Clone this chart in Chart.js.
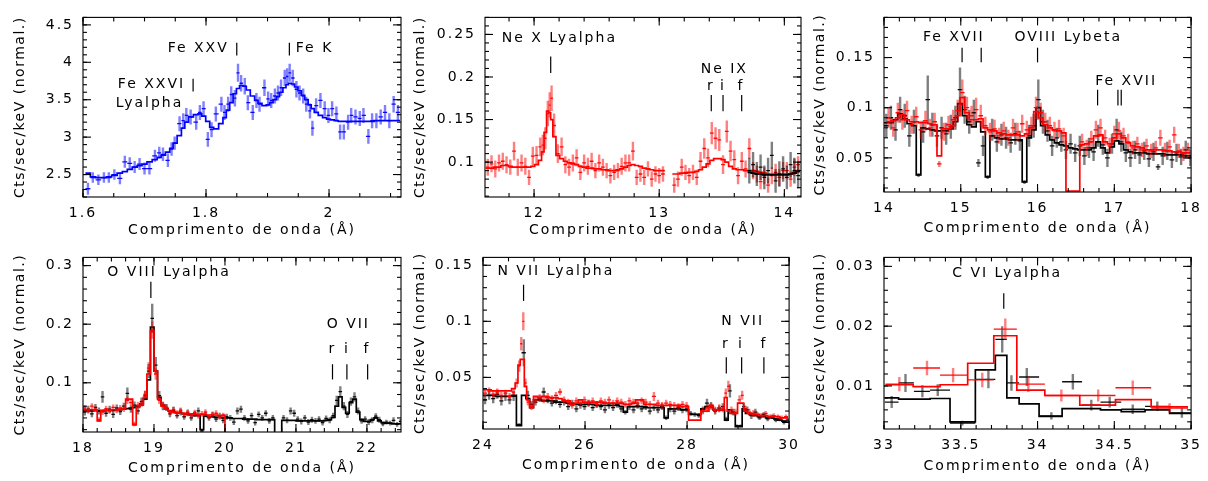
<!DOCTYPE html>
<html>
<head>
<meta charset="utf-8">
<script src="https://cdn.jsdelivr.net/npm/chart.js@4.4.1/dist/chart.umd.min.js"></script>
<style>
  body { margin: 0; background: #fff; width: 1208px; height: 481px; position: relative; overflow: hidden; }
  .panel { position: absolute; }
</style>
</head>
<body>
<div class="panel" style="left:0;top:0;width:404px;height:240px"><canvas id="p1"></canvas></div>
<div class="panel" style="left:404px;top:0;width:402px;height:240px"><canvas id="p2"></canvas></div>
<div class="panel" style="left:806px;top:0;width:402px;height:240px"><canvas id="p3"></canvas></div>
<div class="panel" style="left:0;top:240px;width:404px;height:241px"><canvas id="p4"></canvas></div>
<div class="panel" style="left:404px;top:240px;width:402px;height:241px"><canvas id="p5"></canvas></div>
<div class="panel" style="left:806px;top:240px;width:402px;height:241px"><canvas id="p6"></canvas></div>
<script>
// ---- Panel 1: Fe K region (blue) ----
const feWave = [1.608,1.616,1.625,1.634,1.642,1.651,1.660,1.668,1.676,1.684,1.692,1.700,1.708,1.717,1.724,1.730,1.738,1.744,1.749,1.757,
  1.763,1.768,1.775,1.784,1.790,1.796,1.803,1.809,1.816,1.825,1.830,1.836,1.841,1.847,1.852,1.857,1.863,1.868,1.876,1.882,
  1.887,1.895,1.901,1.906,1.912,1.917,1.922,1.928,1.932,1.936,1.941,1.947,1.952,1.958,1.963,1.969,1.973,1.979,1.986,1.993,
  1.999,2.005,2.012,2.018,2.024,2.031,2.036,2.043,2.050,2.056,2.064,2.070,2.077,2.084,2.091,2.098,2.105,2.112];
const feFlux = [2.31,2.46,2.43,2.46,2.46,2.50,2.45,2.67,2.65,2.60, 2.64,2.58,2.58,2.75,2.79,2.77,2.69,2.84,2.92,3.18,
  3.22,3.29,3.27,3.20,3.33,3.38,2.97,3.10,3.31,3.44, 3.33,3.44,3.57,3.52,3.86,3.72,3.68,3.46,3.33,3.49,
  3.44,3.66,3.51,3.49,3.55,3.59,3.66,3.79,3.81,3.86, 3.79,3.64,3.59,3.55,3.44,3.35,3.12,3.42,3.49,3.38,
  3.29,3.38,3.31,3.07,3.07,3.20,3.29,3.27,3.25,3.29, 3.01,3.22,3.22,3.27,3.33,3.22,3.44,3.33];
const feErr = [.08,.07,.07,.07,.07,.07,.08,.08,.08,.08, .08,.08,.08,.08,.08,.09,.09,.09,.09,.10,
  .10,.10,.10,.10,.10,.10,.10,.10,.10,.10, .10,.10,.11,.11,.12,.11,.11,.10,.10,.10,
  .10,.11,.10,.10,.10,.10,.11,.11,.11,.12, .11,.11,.10,.10,.10,.10,.10,.10,.10,.10,
  .10,.10,.10,.10,.10,.10,.10,.10,.10,.10, .10,.10,.10,.10,.10,.10,.11,.10];
const feModel = [2.52,2.47,2.46,2.46,2.47,2.49,2.52,2.54,2.57,2.60, 2.62,2.64,2.67,2.70,2.73,2.76,2.80,2.85,2.92,3.02,
  3.12,3.20,3.27,3.30,3.31,3.28,3.21,3.13,3.11,3.18, 3.26,3.36,3.46,3.58,3.65,3.69,3.68,3.63,3.55,3.49,
  3.45,3.42,3.43,3.46,3.50,3.54,3.60,3.66,3.70,3.72, 3.71,3.67,3.62,3.56,3.50,3.43,3.38,3.33,3.29,3.26,
  3.24,3.23,3.22,3.21,3.21,3.21,3.21,3.21,3.21,3.21, 3.21,3.21,3.22,3.22,3.22,3.22,3.22,3.22];
const feXTicks = [1.6, 1.8, 2];
const feYTicks = [2.5, 3, 3.5, 4, 4.5];

// ---- Panel 2: Ne region (red + black) ----
const neWaveR = [11.63,11.66,11.69,11.72,11.75,11.78,11.81,11.84,11.87,11.90, 11.93,11.96,11.99,12.02,12.05,12.07,12.09,12.11,12.125,12.14,
  12.16,12.19,12.22,12.25,12.28,12.31,12.34,12.37,12.40,12.43, 12.46,12.49,12.52,12.55,12.58,12.61,12.64,12.67,12.70,12.73,
  12.76,12.79,12.82,12.85,12.88,12.91,12.94,12.97,13.00,13.03,
  13.12,13.15,13.18,13.21,13.24,13.27,13.30,13.33,13.36,13.39, 13.42,13.45,13.48,13.51,13.54,13.57,13.60,13.63,13.66,13.69,
  13.72,13.75,13.78,13.81,13.84,13.87,13.90,13.93,13.96,13.99, 14.02,14.05,14.08,14.11];
const neFluxR = [0.094,0.098,0.092,0.099,0.101,0.097,0.094,0.113,0.094,0.099, 0.095,0.082,0.107,0.108,0.118,0.120,0.128,0.157,0.167,0.175,
  0.143,0.110,0.118,0.097,0.094,0.099,0.105,0.088,0.099,0.095, 0.101,0.090,0.099,0.094,0.090,0.084,0.088,0.090,0.095,0.099,
  0.099,0.113,0.082,0.086,0.082,0.092,0.080,0.086,0.084,0.086,
  0.073,0.080,0.094,0.088,0.084,0.088,0.082,0.101,0.116,0.105, 0.134,0.128,0.126,0.097,0.136,0.113,0.103,0.084,0.101,0.092,
  0.116,0.090,0.086,0.077,0.084,0.073,0.084,0.088,0.082,0.090, 0.090,0.080,0.094,0.097];
const neErrR = [.010,.010,.010,.010,.010,.010,.009,.011,.010,.010, .010,.009,.011,.011,.011,.012,.013,.015,.015,.015,
  .014,.011,.011,.010,.010,.010,.010,.009,.010,.010, .010,.009,.010,.010,.009,.009,.009,.009,.010,.010,
  .010,.011,.009,.009,.009,.009,.009,.009,.009,.009,
  .009,.009,.010,.009,.009,.009,.009,.011,.012,.011, .013,.013,.013,.011,.013,.012,.011,.010,.011,.010,
  .012,.010,.010,.009,.010,.009,.010,.010,.010,.010, .010,.009,.010,.010];
const neModelR = [0.093,0.093,0.094,0.094,0.096,0.096,0.095,0.094,0.094,0.094, 0.094,0.094,0.095,0.097,0.102,0.112,0.135,0.160,0.158,0.150,
  0.130,0.108,0.104,0.101,0.099,0.098,0.097,0.095,0.094,0.093, 0.093,0.092,0.092,0.091,0.091,0.090,0.090,0.091,0.092,0.094,
  0.096,0.097,0.096,0.095,0.093,0.092,0.091,0.090,0.090,0.090,
  0.086,0.086,0.087,0.087,0.088,0.088,0.089,0.091,0.094,0.098, 0.102,0.104,0.104,0.103,0.100,0.095,0.092,0.091,0.091,0.090,
  0.090,0.090,0.089,0.088,0.087,0.086,0.086,0.086,0.086,0.086, 0.086,0.086,0.088,0.090];
const neWaveK = [13.72,13.75,13.78,13.81,13.84,13.87,13.90,13.93,13.96,13.99,14.02,14.05,14.08,14.11];
const neFluxK = [0.090,0.097,0.086,0.094,0.082,0.090,0.108,0.078,0.086,0.092,0.082,0.097,0.090,0.084];
const neErrK = [.015,.015,.014,.015,.014,.015,.016,.014,.015,.015,.014,.015,.015,.015];
const neModelK = [0.088,0.087,0.086,0.086,0.085,0.085,0.085,0.085,0.085,0.085,0.085,0.086,0.087,0.089];
const neXTicks = [12, 13, 14];
const neYTicks = [0.1, 0.15, 0.2, 0.25];

// ---- Panel 3: Fe XVII / O VIII Lybeta (black + red) ----
const fxWaveK = [14.03,14.09,14.15,14.21,14.27,14.33,14.39,14.45,14.51,14.57, 14.63,14.69,14.75,14.81,14.87,14.93,14.99,15.05,15.11,15.17,
  15.23,15.29,15.35,15.41,15.47,15.53,15.59,15.65,15.71,15.77, 15.83,15.89,15.95,16.01,16.07,16.13,16.19,16.25,16.31,16.37,
  16.43,16.49,16.55,16.61,16.67,16.73,16.79,16.85,16.91,16.97, 17.03,17.09,17.15,17.21,17.27,17.33,17.39,17.45,17.51,17.57,
  17.63,17.69,17.75,17.81,17.87,17.93,17.99];
const fxFluxK = [0.082,0.090,0.078,0.098,0.092,0.072,0.086,0.033,0.076,0.108, 0.083,0.072,0.080,0.074,0.081,0.090,0.118,0.098,0.086,0.095,
  0.045,0.062,0.031,0.078,0.066,0.073,0.070,0.065,0.074,0.067, 0.026,0.072,0.082,0.108,0.086,0.077,0.062,0.070,0.066,0.058,
  0.064,0.055,0.062,0.052,0.060,0.056,0.072,0.063,0.050,0.064, 0.078,0.066,0.055,0.050,0.058,0.053,0.057,0.049,0.056,0.041,
  0.052,0.057,0.048,0.055,0.051,0.058,0.050];
const fxErrK = [.012,.012,.011,.013,.012,.011,.012,.002,.011,.024, .012,.011,.011,.011,.012,.012,.022,.014,.012,.013,
  .004,.010,.002,.011,.010,.011,.011,.010,.011,.010, .002,.011,.012,.020,.012,.011,.010,.010,.010,.009,
  .010,.009,.010,.009,.010,.009,.011,.010,.009,.010, .011,.010,.009,.009,.009,.009,.009,.008,.009,.003,
  .009,.009,.008,.009,.008,.009,.008];
const fxModelK = [0.085,0.085,0.088,0.094,0.089,0.084,0.082,0.033,0.080,0.079, 0.078,0.077,0.077,0.077,0.079,0.086,0.104,0.092,0.083,0.081,
  0.086,0.076,0.031,0.072,0.070,0.069,0.069,0.068,0.068,0.068, 0.026,0.070,0.078,0.100,0.082,0.073,0.068,0.065,0.063,0.062,
  0.060,0.059,0.058,0.058,0.058,0.060,0.066,0.060,0.055,0.061, 0.067,0.064,0.058,0.056,0.055,0.055,0.055,0.054,0.054,0.054,
  0.054,0.053,0.053,0.053,0.053,0.052,0.052];
const fxWaveR = [14.06,14.12,14.18,14.24,14.30,14.36,14.42,14.48,14.54,14.60, 14.66,14.72,14.78,14.84,14.90,14.96,15.02,15.08,15.14,15.20,
  15.26,15.32,15.38,15.44,15.50,15.56,15.62,15.68,15.74,15.80, 15.86,15.92,15.98,16.04,16.10,16.16,16.22,16.28,16.34,16.40,
  16.46,16.52,16.58,16.64,16.70,16.76,16.82,16.88,16.94,17.00, 17.06,17.12,17.18,17.24,17.30,17.36,17.42,17.48,17.54,17.60,
  17.66,17.72,17.78,17.84,17.90,17.96];
const fxFluxR = [0.090,0.080,0.095,0.088,0.097,0.083,0.091,0.078,0.087,0.080, 0.086,0.044,0.076,0.083,0.088,0.097,0.115,0.100,0.092,0.098,
  0.092,0.082,0.076,0.079,0.072,0.077,0.070,0.080,0.076,0.084, 0.078,0.082,0.100,0.095,0.086,0.082,0.077,0.079,0.072,null,
  null,null,0.066,0.060,0.069,0.078,0.080,0.070,0.062,0.074, 0.077,0.072,0.066,0.060,0.064,0.058,0.062,0.057,0.060,0.070,
  0.058,0.061,0.073,0.057,0.054,0.058];
const fxErrR = [.010,.009,.010,.010,.010,.009,.010,.009,.010,.009, .009,.003,.009,.009,.010,.011,.013,.011,.010,.012,
  .011,.009,.009,.009,.008,.009,.008,.009,.009,.009, .009,.009,.011,.010,.009,.009,.009,.009,.008,0,
  0,0,.008,.008,.008,.009,.009,.008,.008,.008, .009,.008,.008,.007,.007,.007,.007,.007,.007,.008,
  .007,.007,.008,.007,.007,.007];
const fxModelR = [0.086,0.087,0.090,0.093,0.088,0.086,0.086,0.085,0.085,0.084, 0.083,0.052,0.079,0.079,0.082,0.092,0.110,0.095,0.088,0.088,
  0.089,0.080,0.078,0.077,0.075,0.074,0.073,0.073,0.073,0.072, 0.074,0.080,0.096,0.090,0.083,0.080,0.078,0.077,0.075,0.017,
  0.017,0.017,0.063,0.064,0.066,0.072,0.073,0.066,0.064,0.070, 0.074,0.070,0.065,0.062,0.061,0.060,0.058,0.058,0.058,0.058,
  0.057,0.057,0.056,0.056,0.055,0.055];
const fxXTicks = [14, 15, 16, 17, 18];
const fxYTicks = [0.05, 0.1, 0.15];

// ---- Panel 4: O VIII / O VII (black + red) ----
const oxWaveK = [18.025,18.075,18.125,18.175,18.225,18.275,18.325,18.375,18.425,18.475, 18.525,18.575,18.625,18.675,18.725,18.775,18.825,18.875,18.925,18.975,
  19.025,19.075,19.125,19.175,19.225,19.275,19.325,19.375,19.425,19.475, 19.525,19.575,19.625,19.675,19.725,19.775,19.825,19.875,19.925,19.975,
  20.025,20.075,20.125,20.175,20.225,20.275,20.325,20.375,20.425,20.475, 20.525,20.575,20.625,20.675,20.725,20.775,20.825,20.875,20.925,20.975,
  21.025,21.075,21.125,21.175,21.225,21.275,21.325,21.375,21.425,21.475, 21.525,21.575,21.625,21.675,21.725,21.775,21.825,21.875,21.925,21.975,
  22.025,22.075,22.125,22.175,22.225,22.275,22.325,22.375,22.425,22.475];
const oxFluxK = [0.050,0.055,0.047,0.058,0.052,0.076,0.048,0.055,0.046,0.057, 0.051,0.060,0.082,0.055,0.062,0.052,0.068,0.078,0.120,0.210,
  0.130,0.078,0.060,0.058,0.047,0.053,0.044,0.050,0.042,0.048, 0.040,0.047,0.052,0.018,0.046,0.040,0.045,0.038,0.044,0.036,
  0.042,0.040,0.033,0.052,0.055,0.040,0.035,0.044,0.032,0.046, 0.040,0.048,0.035,0.040,null,null,0.040,0.036,0.052,0.048,
  0.038,0.034,0.040,0.033,0.037,0.035,0.038,0.032,0.039,0.036, 0.044,0.070,0.085,0.060,0.046,0.068,0.076,0.052,0.035,0.038,
  0.033,0.036,0.043,0.037,0.030,0.033,0.031,0.036,0.029,0.034];
const oxErrK = [.006,.006,.006,.006,.006,.010,.006,.006,.006,.006, .006,.006,.010,.006,.006,.006,.007,.008,.012,.025,
  .014,.008,.007,.006,.006,.006,.005,.006,.005,.005, .005,.005,.006,.003,.005,.005,.005,.005,.005,.005,
  .005,.005,.005,.006,.006,.005,.005,.005,.005,.005, .005,.005,.005,.005,0,0,.005,.005,.006,.006,
  .005,.005,.005,.005,.005,.005,.005,.005,.005,.005, .005,.008,.009,.007,.006,.007,.008,.006,.005,.005,
  .005,.005,.005,.005,.004,.004,.004,.005,.004,.004];
const oxModelK = [0.052,0.052,0.052,0.053,0.052,0.052,0.053,0.053,0.053,0.054, 0.054,0.055,0.056,0.057,0.058,0.060,0.064,0.072,0.105,0.195,
  0.120,0.075,0.062,0.056,0.052,0.050,0.049,0.048,0.047,0.046, 0.045,0.044,0.044,0.020,0.043,0.042,0.042,0.041,0.041,0.040,
  0.040,0.040,0.039,0.039,0.039,0.038,0.038,0.038,0.038,0.037, 0.037,0.037,0.037,0.037,0,0,0.036,0.036,0.036,0.036,
  0.035,0.035,0.035,0.035,0.035,0.035,0.035,0.035,0.036,0.037, 0.041,0.060,0.076,0.058,0.048,0.066,0.072,0.050,0.037,0.034,
  0.034,0.037,0.040,0.035,0.032,0.031,0.031,0.030,0.030,0.030];
const oxWaveR = [18.025,18.075,18.125,18.175,18.225,18.275,18.325,18.375,18.425,18.475, 18.525,18.575,18.625,18.675,18.725,18.775,18.825,18.875,18.925,18.975,
  19.025,19.075,19.125,19.175,19.225,19.275,19.325,19.375,19.425,19.475, 19.525,19.575,19.625,19.675,19.725,19.775,19.825,19.875,19.925,19.975, 20.025];
const oxFluxR = [0.057,0.052,0.060,0.055,0.037,0.050,0.056,0.052,0.058,0.053, 0.057,0.055,0.070,0.066,0.030,0.062,0.065,0.080,0.125,0.190,
  0.115,0.070,0.063,0.058,0.050,0.054,0.048,0.053,0.046,0.050, 0.044,0.049,0.043,0.047,0.050,0.042,0.046,0.048,0.041,0.045, null];
const oxErrR = [.005,.005,.005,.005,.004,.005,.005,.005,.005,.005, .005,.005,.006,.006,.004,.005,.006,.007,.010,.015,
  .010,.006,.005,.005,.005,.005,.005,.005,.004,.005, .004,.005,.004,.005,.005,.004,.005,.005,.004,.004, 0];
const oxModelR = [0.054,0.054,0.054,0.053,0.035,0.053,0.053,0.053,0.054,0.054, 0.055,0.056,0.072,0.072,0.028,0.058,0.062,0.075,0.115,0.188,
  0.120,0.072,0.060,0.055,0.052,0.050,0.049,0.048,0.048,0.047, 0.047,0.046,0.046,0.046,0.045,0.045,0.045,0.045,0.044,0.044, 0];
const oxXTicks = [18, 19, 20, 21, 22];
const oxYTicks = [0.1, 0.2, 0.3];

// ---- Panel 5: N VII (black + red) ----
const nvWaveK = [24.04,24.12,24.20,24.28,24.36,24.44,24.52,24.60,24.71,24.80, 24.88,24.95,25.03,25.11,25.19,25.27,25.35,25.43,25.51,25.59,
  25.67,25.75,25.83,25.91,25.99,26.07,26.15,26.23,26.31,26.39, 26.47,26.55,26.63,26.71,26.79,26.87,26.95,27.03,27.11,27.19,
  27.27,27.35,27.43,27.51,27.59,27.67,27.75,27.83,27.91,27.99, 28.07,28.15,28.23,28.31,28.39,28.47,28.55,28.63,28.70,28.77,
  28.84,28.91,28.98,29.05,29.11,29.18,29.26,29.34,29.42,29.50, 29.58,29.66,29.74,29.82,29.90,29.97];
const nvFluxK = [0.030,0.034,0.031,0.035,0.029,0.033,0.030,0.033,0.008,0.072, 0.034,0.026,0.028,0.031,0.037,0.030,0.027,0.029,0.026,0.028,
  0.024,0.027,0.022,0.025,0.024,0.027,0.023,0.026,0.024,0.021, 0.025,0.023,0.026,0.022,0.019,0.024,0.021,0.025,0.022,0.024,
  0.020,0.023,0.021,0.024,0.014,0.022,0.020,0.023,0.021,0.022, 0.018,0.017,0.016,0.021,0.027,0.025,0.020,0.022,0.024,0.013,
  0.038,0.019,0.007,0.007,0.024,0.021,0.016,0.019,0.014,0.017, 0.013,0.015,0.012,0.013,0.010,0.012];
const nvErrK = [.004,.004,.004,.004,.004,.004,.004,.004,.001,.012, .004,.003,.003,.003,.004,.003,.003,.003,.003,.003,
  .003,.003,.003,.003,.003,.003,.003,.003,.003,.003, .003,.003,.003,.003,.002,.003,.003,.003,.003,.003,
  .003,.003,.003,.003,.002,.003,.003,.003,.003,.003, .002,.002,.002,.003,.004,.003,.003,.003,.003,.002,
  .006,.003,.001,.001,.003,.003,.003,.003,.002,.002, .002,.002,.002,.002,.002,.002];
const nvModelK = [0.034,0.034,0.034,0.033,0.033,0.033,0.033,0.034,0.007,0.034, 0.031,0.023,0.030,0.030,0.029,0.029,0.029,0.028,0.028,0.028,
  0.027,0.026,0.026,0.026,0.026,0.026,0.026,0.025,0.025,0.025, 0.025,0.025,0.025,0.024,0.019,0.024,0.024,0.024,0.024,0.023,
  0.023,0.023,0.023,0.023,0.014,0.022,0.022,0.022,0.021,0.021, 0.017,0.017,0.017,0.022,0.024,0.024,0.021,0.021,0.021,0.012,
  0.021,0.018,0.006,0.006,0.022,0.018,0.017,0.016,0.015,0.015, 0.014,0.014,0.013,0.012,0.011,0.010];
const nvWaveR = [24.04,24.12,24.20,24.28,24.36,24.44,24.52,24.60,24.66,24.71, 24.75,24.79,24.83,24.88,24.95,25.03,25.11,25.19,25.27,25.35,
  25.43,25.51,25.59,25.67,25.75,25.83,25.91,25.99,26.07,26.15, 26.23,26.31,26.39,26.47,26.55,26.63,26.71,26.79,26.87,26.95,
  27.03,27.11,27.19,27.27,27.35,27.43,27.51,27.59,27.67,27.75, 27.83,27.91,27.99,28.07,28.15,28.23,28.31,28.39,28.47,28.55,
  28.63,28.70,28.76,28.81,28.87,28.95,29.03,29.08,29.14,29.22, 29.30,29.38,29.46,29.54,29.62,29.70,29.78,29.86,29.94];
const nvFluxR = [0.036,0.038,0.035,0.037,0.034,0.036,0.033,0.037,0.045,0.060, 0.080,0.100,0.045,0.028,0.024,0.030,0.032,0.030,0.033,0.031,
  0.034,0.037,0.030,0.028,0.025,0.029,0.027,0.030,0.027,0.029, 0.026,0.029,0.028,0.030,0.027,0.029,0.028,0.026,0.029,0.028,
  0.027,0.029,0.028,0.026,0.033,0.027,0.025,0.027,0.026,0.025, 0.024,0.026,0.025,null,null,null,0.020,0.022,0.024,0.021,
  0.023,0.022,0.036,0.042,0.021,0.019,0.030,0.034,0.022,0.019, 0.018,0.017,0.016,0.018,0.015,0.016,0.015,0.014,0.015];
const nvErrR = [.003,.003,.003,.003,.003,.003,.003,.003,.004,.005, .006,.008,.004,.003,.003,.003,.003,.003,.003,.003,
  .003,.003,.003,.003,.003,.003,.003,.003,.003,.003, .003,.003,.003,.003,.003,.003,.003,.003,.003,.003,
  .003,.003,.003,.003,.004,.003,.003,.003,.003,.003, .003,.003,.003,0,0,0,.003,.003,.003,.003,
  .003,.003,.004,.005,.003,.003,.004,.004,.003,.003, .003,.002,.002,.002,.002,.002,.002,.002,.002];
const nvModelR = [0.039,0.039,0.038,0.038,0.038,0.038,0.038,0.040,0.045,0.061, 0.066,0.066,0.042,0.030,0.023,0.033,0.032,0.033,0.032,0.032,
  0.032,0.031,0.029,0.029,0.026,0.027,0.030,0.028,0.028,0.028, 0.028,0.028,0.027,0.027,0.027,0.027,0.027,0.026,0.026,0.027,
  0.030,0.030,0.026,0.026,0.026,0.025,0.025,0.025,0.025,0.025, 0.025,0.024,0.024,0.012,0.012,0.012,0.020,0.020,0.025,0.021,
  0.021,0.021,0.032,0.020,0.018,0.018,0.027,0.027,0.020,0.018, 0.017,0.017,0.016,0.016,0.015,0.015,0.015,0.014,0.014];
const nvXTicks = [24, 26, 28, 30];
const nvYTicks = [0.05, 0.1, 0.15];

// ---- Panel 6: C VI (black + red) ----
const cvWaveK = [33.05,33.14,33.25,33.35,33.51,33.68,33.77,33.83,33.93,34.09,34.23,34.35,34.47,34.62,34.78,34.94];
const cvFluxK = [0.0073,0.0105,0.0091,0.0093,0.0038,0.0111,0.0178,0.0105,0.0115,0.0050,0.0107,0.0068,0.0073,0.0061,0.0066,0.0055];
const cvErrK = [0.0010,0.0015,0.0010,0.0010,0.0004,0.0015,0.0022,0.0013,0.0015,0.0006,0.0013,0.0009,0.0009,0.0008,0.0008,0.0008];
const cvModelK = [0.0080,0.0078,0.0078,0.0079,0.0040,0.0127,0.0151,0.0080,0.0070,0.0049,0.0062,0.0062,0.0060,0.0057,0.0060,0.0054];
const cvWaveR = [33.10,33.28,33.45,33.64,33.79,33.94,34.155,34.395,34.62,34.86];
const cvFluxR = [0.0103,0.0130,0.0118,0.0110,0.0195,0.0103,0.0084,0.0084,0.0097,0.0063];
const cvErrR = [0.0012,0.0012,0.0012,0.0012,0.0018,0.0013,0.0010,0.0010,0.0012,0.0008];
const cvModelR = [0.0102,0.0099,0.0102,0.0138,0.0184,0.0093,0.0084,0.0068,0.0077,0.0065];
const cvXTicks = [33, 33.5, 34, 34.5, 35];
const cvYTicks = [0.01, 0.02, 0.03];

// line labels [text, wavelength, y, align] and marker ticks [wavelength, y0, y1]
const feNotes = [['Fe XXV', 1.837, 4.19, 'right'], ['Fe K', 1.946, 4.19, 'left'], ['Fe XXVI', 1.766, 3.70, 'right'], ['Lyalpha', 1.763, 3.445, 'right']];
const feMarks = [[1.850, 4.09, 4.26], [1.9355, 4.09, 4.26], [1.779, 3.61, 3.78]];
const neNotes = [['Ne X Lyalpha', 11.742, 0.2453, 'left'], ['Ne IX', 13.52, 0.2094, 'center'], ['r', 13.412, 0.1895, 'center'], ['i', 13.51, 0.1895, 'center'], ['f', 13.654, 0.1895, 'center']];
const neMarks = [[12.133, 0.2048, 0.224], [13.416, 0.1597, 0.1788], [13.51, 0.1597, 0.1788], [13.659, 0.1597, 0.1788]];
const fxNotes = [['Fe XVII', 14.91, 0.1705, 'center'], ['OVIII Lybeta', 16.40, 0.1705, 'center'], ['Fe XVII', 17.154, 0.1267, 'center']];
const fxMarks = [[15.017, 0.1452, 0.1598], [15.266, 0.1452, 0.1598], [16.0, 0.1452, 0.1598], [16.782, 0.1023, 0.1179], [17.047, 0.1023, 0.1179], [17.09, 0.1023, 0.1179]];
const oxNotes = [['O VIII Lyalpha', 18.343, 0.289, 'left'], ['O VII', 21.738, 0.200, 'center'], ['r', 21.515, 0.1573, 'center'], ['i', 21.718, 0.1573, 'center'], ['f', 22.0, 0.1573, 'center']];
const oxMarks = [[18.956, 0.2445, 0.2723], [21.515, 0.1057, 0.1317], [21.718, 0.1057, 0.1317], [22.01, 0.1057, 0.1317]];
const nvNotes = [['N VII Lyalpha', 24.283, 0.1448, 'left'], ['N VII', 29.09, 0.0999, 'center'], ['r', 28.763, 0.0796, 'center'], ['i', 29.058, 0.0796, 'center'], ['f', 29.506, 0.0796, 'center']];
const nvMarks = [[24.795, 0.1182, 0.1326], [28.769, 0.0535, 0.068], [29.07, 0.0535, 0.068], [29.506, 0.0535, 0.068]];
const cvNotes = [['C VI Lyalpha', 33.444, 0.02875, 'left']];
const cvMarks = [[33.78, 0.0229, 0.0255]];

const FONT = 'DejaVu Sans';
const Y_TITLE = 'Cts/sec/keV (normal.)';
const X_TITLE = 'Comprimento de onda (Å)';
const BLUE = '0,0,255', RED = '255,0,0', BLACK = '0,0,0';

// bin edges from neighbouring centres; a big jump is treated as a gap
function binEdges(xs) {
  const n = xs.length, lo = [], hi = [];
  for (let i = 0; i < n; i++) {
    let dl = i > 0 ? xs[i] - xs[i - 1] : xs[1] - xs[0];
    let dr = i < n - 1 ? xs[i + 1] - xs[i] : dl;
    if (dr > 2.5 * dl) dr = dl;
    if (dl > 2.5 * dr) dl = dr;
    lo.push(xs[i] - dl / 2);
    hi.push(xs[i] + dr / 2);
  }
  return { lo, hi };
}

function makeSeries(name, wave, flux, err, model, rgb) {
  if (flux.length !== wave.length || err.length !== wave.length || model.length !== wave.length) {
    throw new Error('length mismatch in ' + name + ': ' + [wave.length, flux.length, err.length, model.length].join(','));
  }
  const { lo, hi } = binEdges(wave);
  const pts = [], steps = [];
  wave.forEach((x, i) => {
    if (flux[i] !== null) pts.push({ x: x, y: flux[i], e: err[i], lo: lo[i], hi: hi[i] });
    if (i > 0 && Math.abs(lo[i] - hi[i - 1]) > 1e-6) steps.push({ x: lo[i], y: null });
    steps.push({ x: lo[i], y: model[i] }, { x: hi[i], y: model[i] });
  });
  return [
    { type: 'scatter', data: pts, pointRadius: 0, crossRGB: rgb },
    { type: 'line', data: steps, borderColor: 'rgb(' + rgb + ')', borderWidth: 1.7, pointRadius: 0,
      fill: false, tension: 0, spanGaps: false, clip: 0 }
  ];
}

const panels = [
  { id: 'p1', w: 404, h: 240, area: { l: 83, r: 401, t: 13, b: 197 }, xr: [1.6, 2.117], yr: [2.2, 4.6],
    xTicks: feXTicks, yTicks: feYTicks, xMinor: 0.05, yMinor: 0.1, xTitleY: 230, yTitleX: 20,
    series: [makeSeries('fe', feWave, feFlux, feErr, feModel, BLUE)], notes: feNotes, marks: feMarks },
  { id: 'p2', w: 402, h: 240, area: { l: 81, r: 397, t: 13, b: 197 }, xr: [11.608, 14.133], yr: [0.059, 0.27],
    xTicks: neXTicks, yTicks: neYTicks, xMinor: 0.2, yMinor: 0.01, xTitleY: 230, yTitleX: 16,
    series: [makeSeries('neR', neWaveR, neFluxR, neErrR, neModelR, RED), makeSeries('neK', neWaveK, neFluxK, neErrK, neModelK, BLACK)],
    notes: neNotes, marks: neMarks },
  { id: 'p3', w: 402, h: 240, area: { l: 78, r: 390, t: 13, b: 192 }, xr: [14, 18], yr: [0.016, 0.19],
    xTicks: fxXTicks, yTicks: fxYTicks, xMinor: 0.2, yMinor: 0.01, xTitleY: 228, yTitleX: 14,
    series: [makeSeries('fxK', fxWaveK, fxFluxK, fxErrK, fxModelK, BLACK), makeSeries('fxR', fxWaveR, fxFluxR, fxErrR, fxModelR, RED)],
    notes: fxNotes, marks: fxMarks },
  { id: 'p4', w: 404, h: 241, area: { l: 83, r: 401, t: 13, b: 192 }, xr: [18, 22.48], yr: [0.016, 0.314],
    xTicks: oxXTicks, yTicks: oxYTicks, xMinor: 0.2, yMinor: 0.02, xTitleY: 228, yTitleX: 20,
    series: [makeSeries('oxK', oxWaveK, oxFluxK, oxErrK, oxModelK, BLACK), makeSeries('oxR', oxWaveR, oxFluxR, oxErrR, oxModelR, RED)],
    notes: oxNotes, marks: oxMarks },
  { id: 'p5', w: 402, h: 241, area: { l: 79, r: 391, t: 13, b: 189 }, xr: [24, 30], yr: [0.004, 0.157],
    xTicks: nvXTicks, yTicks: nvYTicks, xMinor: 0.5, yMinor: 0.01, xTitleY: 225, yTitleX: 16,
    series: [makeSeries('nvK', nvWaveK, nvFluxK, nvErrK, nvModelK, BLACK), makeSeries('nvR', nvWaveR, nvFluxR, nvErrR, nvModelR, RED)],
    notes: nvNotes, marks: nvMarks },
  { id: 'p6', w: 402, h: 241, area: { l: 78, r: 390, t: 13, b: 189 }, xr: [33, 35], yr: [0.0028, 0.0315],
    xTicks: cvXTicks, yTicks: cvYTicks, xMinor: 0.1, yMinor: 0.002, xTitleY: 226, yTitleX: 14,
    series: [makeSeries('cvK', cvWaveK, cvFluxK, cvErrK, cvModelK, BLACK), makeSeries('cvR', cvWaveR, cvFluxR, cvErrR, cvModelR, RED)],
    notes: cvNotes, marks: cvMarks }
];

// frame with inward ticks, error crosses, line labels and axis titles
function makeFrame(p) {
  return {
    id: 'frame',
    beforeDraw(chart) {
      chart.ctx.letterSpacing = '2px';
    },
    afterDatasetDraw(chart, args) {
      const ds = chart.data.datasets[args.index];
      if (!ds.crossRGB) return;
      const { ctx, chartArea: a, scales: { x, y } } = chart;
      ctx.save();
      ctx.beginPath();
      ctx.rect(a.left, a.top, a.right - a.left, a.bottom - a.top);
      ctx.clip();
      ds.data.forEach(pt => {
        const px = x.getPixelForValue(pt.x), py = y.getPixelForValue(pt.y);
        ctx.strokeStyle = 'rgba(' + ds.crossRGB + ',0.5)';
        ctx.lineWidth = 2.4;
        ctx.beginPath();
        ctx.moveTo(px, y.getPixelForValue(pt.y - pt.e));
        ctx.lineTo(px, y.getPixelForValue(pt.y + pt.e));
        ctx.stroke();
        ctx.strokeStyle = 'rgba(' + ds.crossRGB + ',0.95)';
        ctx.lineWidth = 1.3;
        ctx.beginPath();
        ctx.moveTo(x.getPixelForValue(pt.lo), py);
        ctx.lineTo(x.getPixelForValue(pt.hi), py);
        ctx.stroke();
      });
      ctx.restore();
    },
    afterDraw(chart) {
      const { ctx, chartArea: a, scales: { x, y } } = chart;
      const seg = (x0, y0, x1, y1) => { ctx.beginPath(); ctx.moveTo(x0, y0); ctx.lineTo(x1, y1); ctx.stroke(); };
      ctx.save();
      ctx.strokeStyle = '#000';
      ctx.lineWidth = 1.1;
      ctx.strokeRect(a.left, a.top, a.right - a.left, a.bottom - a.top);

      const tickX = (v, len) => { const px = x.getPixelForValue(v); seg(px, a.bottom, px, a.bottom - len); seg(px, a.top, px, a.top + len); };
      const tickY = (v, len) => { const py = y.getPixelForValue(v); seg(a.left, py, a.left + len, py); seg(a.right, py, a.right - len, py); };
      for (let k = Math.ceil(p.xr[0] / p.xMinor - 1e-6); k * p.xMinor <= p.xr[1] + 1e-9; k++) tickX(k * p.xMinor, 4);
      for (let k = Math.ceil(p.yr[0] / p.yMinor - 1e-6); k * p.yMinor <= p.yr[1] + 1e-9; k++) tickY(k * p.yMinor, 4);
      p.xTicks.forEach(v => tickX(v, 8));
      p.yTicks.forEach(v => tickY(v, 8));

      ctx.font = '14px "' + FONT + '"';
      ctx.fillStyle = '#000';
      ctx.textBaseline = 'middle';
      p.notes.forEach(n => {
        ctx.textAlign = n[3];
        ctx.fillText(n[0], x.getPixelForValue(n[1]), y.getPixelForValue(n[2]));
      });
      ctx.lineWidth = 1.2;
      p.marks.forEach(m => {
        const px = x.getPixelForValue(m[0]);
        seg(px, y.getPixelForValue(m[1]), px, y.getPixelForValue(m[2]));
      });

      ctx.textAlign = 'center';
      ctx.fillText(X_TITLE, (a.left + a.right) / 2, p.xTitleY);
      ctx.letterSpacing = '1.5px';
      ctx.translate(p.yTitleX, (a.top + a.bottom) / 2);
      ctx.rotate(-Math.PI / 2);
      ctx.fillText(Y_TITLE, 0, 0);
      ctx.restore();
    }
  };
}

panels.forEach(p => {
  const datasets = [];
  p.series.forEach(s => s.forEach(d => datasets.push(d)));
  datasets.forEach((d, i) => { d.order = -i; });
  new Chart(document.getElementById(p.id), {
    type: 'scatter',
    data: { datasets: datasets },
    options: {
      responsive: true,
      maintainAspectRatio: false,
      animation: false,
      events: [],
      layout: { autoPadding: false, padding: { left: 0, top: p.area.t, right: p.w - p.area.r, bottom: 0 } },
      plugins: { legend: { display: false }, tooltip: { enabled: false } },
      scales: {
        x: {
          type: 'linear', min: p.xr[0], max: p.xr[1],
          grid: { display: false, drawTicks: false }, border: { display: false },
          ticks: { font: { family: FONT, size: 14 }, color: '#000', padding: 8, maxRotation: 0, autoSkip: false,
                   callback: v => String(v) },
          afterBuildTicks: s => { s.ticks = p.xTicks.map(v => ({ value: v })); },
          afterFit: s => { s.height = p.h - p.area.b; }
        },
        y: {
          type: 'linear', min: p.yr[0], max: p.yr[1],
          grid: { display: false, drawTicks: false }, border: { display: false },
          ticks: { font: { family: FONT, size: 14 }, color: '#000', padding: 9, autoSkip: false,
                   callback: v => String(v) },
          afterBuildTicks: s => { s.ticks = p.yTicks.map(v => ({ value: v })); },
          afterFit: s => { s.width = p.area.l; }
        }
      }
    },
    plugins: [makeFrame(p)]
  });
});
</script>
</body>
</html>
